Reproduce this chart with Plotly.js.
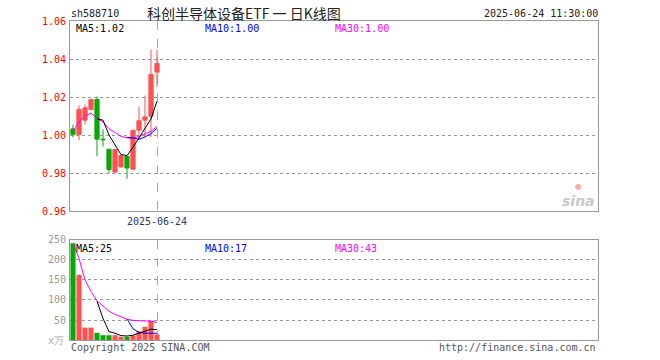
<!DOCTYPE html>
<html>
<head>
<meta charset="utf-8">
<script src="https://cdn.plot.ly/plotly-3.0.1.min.js"></script>
<style>html,body{margin:0;padding:0;background:#fff;}#chart{width:660px;height:360px;}</style>
</head>
<body>
<div id="chart"></div>
<script>
// ---- data ----
const dates = ['2025-06-04','2025-06-05','2025-06-06','2025-06-09','2025-06-10','2025-06-11','2025-06-12','2025-06-13','2025-06-16','2025-06-17','2025-06-18','2025-06-19','2025-06-20','2025-06-23','2025-06-24'];
const openP  = [1.0032,1.0003,1.0078,1.0134,1.0187,0.9978,0.9925,0.9805,0.9832,0.9888,0.9820,1.0025,1.0078,1.0099,1.0331];
const highP  = [1.0055,1.0155,1.0160,1.0190,1.0203,1.0029,0.9925,0.9924,0.9897,0.9890,1.0025,1.0150,1.0208,1.0450,1.0450];
const lowP   = [0.9988,0.9973,1.0055,1.0130,0.9888,0.9940,0.9800,0.9800,0.9828,0.9770,0.9818,0.9980,0.9990,0.9990,1.0254];
const closeP = [1.0003,1.0134,1.0143,1.0187,0.9978,0.9975,0.9818,0.9924,0.9892,0.9826,1.0025,1.0075,1.0095,1.0318,1.0376];
const ma5  = [null,null,null,null,1.0085,1.0078,1.0000,0.9945,0.9897,0.9892,0.9935,0.9985,1.0035,1.0085,1.0178];
const ma10 = [null,null,null,null,null,null,null,null,null,0.9987,0.9985,0.9977,0.9990,1.0008,1.0035];
const ma30 = [1.0020,1.0070,1.0100,1.0115,1.0088,1.0068,1.0033,1.0015,0.9993,0.9985,0.9982,0.9992,1.0005,1.0020,1.0045];
const volume = [242,163,31,31,18,12,12,12,8,8,11,22,33,48,14];
const vma5  = [null,null,null,null,97,54,21,17,11,10,12,17,22,27,26];
const vma10 = [null,null,null,null,null,null,null,null,null,53,28,19,17,17,17];
const vma30 = [242,204,150,121,98,84,72,64,57,52,49,48,47,47,44];
const priceTicks = [0.96,0.98,1.00,1.02,1.04,1.06];
const volTicks = [50,100,150,200,250];
const markDate = '2025-06-24';

const RED = '#ff5050', GREEN = '#08a808';
const colors = closeP.map((c,i)=> c > openP[i] ? RED : GREEN);

const traces = [
  {type:'bar', x:dates, base:lowP, y:highP.map((h,i)=>h-lowP[i]), width:0.17,
   marker:{color:colors, line:{width:0}}, xaxis:'x', yaxis:'y', hoverinfo:'skip'},
  {type:'bar', x:dates, base:openP.map((o,i)=>Math.min(o,closeP[i])),
   y:openP.map((o,i)=>Math.abs(closeP[i]-o)), width:0.7,
   marker:{color:colors, line:{width:1, color:colors}}, xaxis:'x', yaxis:'y', hoverinfo:'skip'},
  {type:'scatter', mode:'lines', x:dates, y:ma30, line:{color:'#ff00ff', width:1}, xaxis:'x', yaxis:'y'},
  {type:'scatter', mode:'lines', x:dates, y:ma10, line:{color:'#0000ff', width:1}, xaxis:'x', yaxis:'y'},
  {type:'scatter', mode:'lines', x:dates, y:ma5, line:{color:'#000000', width:1}, xaxis:'x', yaxis:'y'},
  {type:'bar', x:dates, y:volume, width:0.85, marker:{color:colors, line:{width:0}}, xaxis:'x2', yaxis:'y2'},
  {type:'scatter', mode:'lines', x:dates, y:vma30, line:{color:'#ff00ff', width:1}, xaxis:'x2', yaxis:'y2'},
  {type:'scatter', mode:'lines', x:dates, y:vma10, line:{color:'#0000ff', width:1}, xaxis:'x2', yaxis:'y2'},
  {type:'scatter', mode:'lines', x:dates, y:vma5, line:{color:'#000000', width:1}, xaxis:'x2', yaxis:'y2'}
];

const mono = 'DejaVu Sans Mono, Liberation Mono, monospace';
const xBase = {type:'category', categoryorder:'array', categoryarray:dates, range:[-0.5,87.5],
  showline:true, mirror:true, linecolor:'#999', linewidth:1, showgrid:true, griddash:'dash',
  gridcolor:'#aaa', gridwidth:1, tickmode:'array', tickvals:[markDate], ticktext:[markDate],
  ticks:'outside', ticklen:1, tickcolor:'rgba(0,0,0,0)', zeroline:false, fixedrange:true};

const ann = (text, x, y, xanchor, color, size, family) => ({text, x, y, xref:'paper', yref:'paper',
  xanchor, yanchor:'middle', showarrow:false, font:{color, size:size||10, family:family||mono}});

const layout = {
  width:660, height:360, margin:{l:70, r:62, t:21, b:20, pad:0},
  paper_bgcolor:'#fff', plot_bgcolor:'#fff', showlegend:false, barmode:'overlay',
  font:{family:mono, size:10, color:'#333'},
  xaxis:Object.assign({}, xBase, {anchor:'y', tickfont:{color:'#333366', size:10, family:mono}}),
  xaxis2:Object.assign({}, xBase, {anchor:'y2', showticklabels:false}),
  yaxis:{domain:[0.4044,1], range:[0.96,1.06], tickmode:'array', tickvals:priceTicks,
    ticktext:priceTicks.map(v=>v.toFixed(2)), tickfont:{color:'#ff0000', size:10, family:mono},
    showline:true, mirror:true, linecolor:'#999', linewidth:1, showgrid:true, griddash:'dot',
    gridcolor:'#999', zeroline:false, ticks:'outside', ticklen:1, tickcolor:'rgba(0,0,0,0)', fixedrange:true},
  yaxis2:{domain:[0,0.3135], range:[0,250], tickmode:'array', tickvals:volTicks,
    tickfont:{color:'#999', size:10, family:mono},
    showline:true, mirror:true, linecolor:'#999', linewidth:1, showgrid:true, griddash:'dot',
    gridcolor:'#999', zeroline:false, ticks:'outside', ticklen:1, tickcolor:'rgba(0,0,0,0)', fixedrange:true},
  annotations:[
    ann('sh588710', -0.002, 1.025, 'left', '#222'),
    ann('科创半导体设备ETF 一 日K线图', 0.3295, 1.025, 'center', '#222', 14, 'Noto Sans CJK SC'),
    ann('2025-06-24 11:30:00', 1.0038, 1.025, 'right', '#222'),
    ann('MA5:1.02', 0.007, 0.978, 'left', '#000'),
    ann('MA10:1.00', 0.252, 0.978, 'left', '#0000ff'),
    ann('MA30:1.00', 0.498, 0.978, 'left', '#ff00ff'),
    ann('MA5:25', 0.007, 0.288, 'left', '#000'),
    ann('MA10:17', 0.252, 0.288, 'left', '#0000ff'),
    ann('MA30:43', 0.498, 0.288, 'left', '#ff00ff'),
    ann('x万', -0.008, 0.0, 'right', '#aaa'),
    ann('Copyright 2025 SINA.COM', -0.002, -0.022, 'left', '#555'),
    ann('http://finance.sina.com.cn', 1.0, -0.022, 'right', '#555'),
    {text:'<b><i>sina</i></b>', x:0.999, y:0.436, xref:'paper', yref:'paper', xanchor:'right', yanchor:'middle',
     showarrow:false, font:{color:'#c8c8c8', size:14, family:'DejaVu Sans'}},
    {text:'●', x:0.963, y:0.482, xref:'paper', yref:'paper', xanchor:'center', yanchor:'middle',
     showarrow:false, font:{color:'#f6b0b0', size:8, family:'DejaVu Sans'}}
  ]
};

Plotly.newPlot('chart', traces, layout, {staticPlot:true, displayModeBar:false});
</script>
</body>
</html>
